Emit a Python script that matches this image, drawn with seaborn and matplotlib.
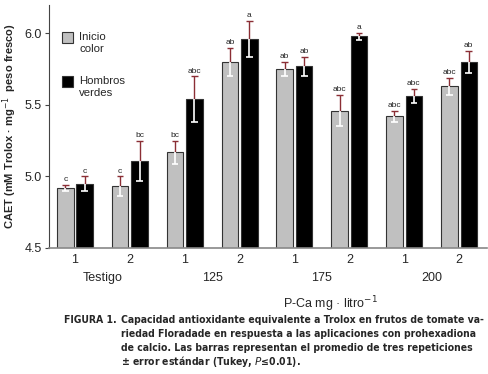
import numpy as np
import pandas as pd
import matplotlib
matplotlib.use("Agg")
import matplotlib.pyplot as plt
import matplotlib.transforms as mtransforms
from matplotlib import font_manager as fm
import seaborn as sns

# data
groups = ["Testigo", "125", "175", "200"]
stages = ["1", "2"]
series = ["Inicio\ncolor", "Hombros\nverdes"]
inicio = [4.92, 4.93, 5.17, 5.80, 5.75, 5.46, 5.42, 5.63]
hombros = [4.95, 5.11, 5.54, 5.96, 5.77, 5.98, 5.56, 5.80]
err_inicio = [0.02, 0.07, 0.08, 0.10, 0.05, 0.11, 0.04, 0.06]
err_hombros = [0.05, 0.14, 0.16, 0.125, 0.065, 0.025, 0.05, 0.075]
let_inicio = ["c", "c", "bc", "ab", "ab", "abc", "abc", "abc"]
let_hombros = ["c", "bc", "abc", "a", "ab", "a", "abc", "ab"]

cats = [g + "-" + s for g in groups for s in stages]
df = pd.DataFrame({
    "trat": cats * 2,
    "serie": [series[0]] * 8 + [series[1]] * 8,
    "caet": inicio + hombros,
})

sns.set_style("ticks")
plt.rcParams["font.family"] = ["Liberation Sans", "DejaVu Sans"]

fig = plt.figure(figsize=(4.88, 3.74), dpi=100)
ax = fig.add_axes([0.1004, 0.337, 0.8976, 0.6504])

sns.barplot(data=df, x="trat", y="caet", hue="serie", order=cats,
            palette=["#c0c0c0", "#000000"], width=0.71, gap=0.15,
            edgecolor="#333333", linewidth=0.8, errorbar=None, ax=ax)

errs = [err_inicio, err_hombros]
lets = [let_inicio, let_hombros]
for k, cont in enumerate(ax.containers):
    for i, p in enumerate(cont.patches):
        xc = p.get_x() + p.get_width() / 2
        top = p.get_y() + p.get_height()
        e = errs[k][i]
        cw = p.get_width() * 0.2
        ax.vlines(xc, top, top + e, color="#8b2e35", lw=1, zorder=4)
        ax.hlines(top + e, xc - cw, xc + cw, color="#8b2e35", lw=1, zorder=4)
        ax.vlines(xc, top - e, top, color="white", lw=1.2, zorder=4)
        ax.hlines(top - e, xc - cw, xc + cw, color="white", lw=1.2, zorder=4)
        ax.text(xc, top + e + 0.012, lets[k][i], ha="center", va="bottom",
                fontsize=6, color="#222222")

ax.set_ylim(4.5, 6.2)
ax.set_xlim(-0.474, 7.51)
ax.set_yticks([4.5, 5.0, 5.5, 6.0])
ax.set_yticklabels(["4.5", "5.0", "5.5", "6.0"])
ax.set_xticks(range(8))
ax.set_xticklabels(stages * 4)
ax.tick_params(axis="x", length=0, labelsize=9, pad=4)
ax.tick_params(axis="y", length=3, labelsize=9, color="#444444", pad=2)
sns.despine(ax=ax)
ax.spines["left"].set_color("#444444")
ax.spines["bottom"].set_color("#888888")
ax.spines["bottom"].set_linewidth(1.2)
ax.set_xlabel("")
ax.set_ylabel("CAET (mM Trolox · mg$^{-1}$  peso fresco)", fontsize=8,
              fontweight="bold")
ax.yaxis.set_label_coords(-0.068, 0.5)

trans = mtransforms.blended_transform_factory(ax.transData, ax.transAxes)
for j, g in enumerate(groups):
    ax.text(2 * j + 0.5, -0.125, g, transform=trans, ha="center", va="center",
            fontsize=9)
ax.text(4.65, -0.232, "P-Ca mg · litro$^{-1}$", transform=trans, ha="center",
        va="center", fontsize=9)

leg = ax.legend(loc="upper left", frameon=False, fontsize=8.2,
                handlelength=0.9, handleheight=1.15, labelspacing=1.95,
                handletextpad=0.6, borderaxespad=0,
                bbox_to_anchor=(0.02, 0.906))
# put each box next to the first line of its label
for col in leg._legend_handle_box.get_children():
    for row in col.get_children():
        row.align = "top"
for h in leg.legend_handles:
    h.set_edgecolor("#333333")
    h.set_linewidth(0.8)

cap = ["Capacidad antioxidante equivalente a Trolox en frutos de tomate va-",
       "riedad Floradade en respuesta a las aplicaciones con prohexadiona",
       "de calcio. Las barras representan el promedio de tres repeticiones",
       "± error estándar (Tukey, $\\mathit{P}$≤0.01)."]
fam = "Liberation Sans"
fp = fm.FontProperties(family="DejaVu Sans", stretch="condensed", weight="bold")
if "Condensed" in fm.findfont(fp, fallback_to_default=False):
    fam = "DejaVu Sans"
capfont = dict(family=[fam, "DejaVu Sans"], fontweight="bold",
               fontstretch="condensed")
lines = []
lines.append(fig.text(117 / 488, 1 - 323 / 374, "FIGURA 1.", va="baseline",
                      ha="right", fontsize=9, **capfont))
for n, line in enumerate(cap):
    lines.append(fig.text(121 / 488, 1 - (323 + 14 * n) / 374, line,
                          va="baseline", fontsize=9, **capfont))
# shrink the caption so the longest line ends at the right edge
r = fig.canvas.get_renderer()
wmax = max(t.get_window_extent(r).width for t in lines[1:])
size = 9 * 365 / wmax
for t in lines:
    t.set_fontsize(size)

fig.savefig("out.png", dpi=100)
